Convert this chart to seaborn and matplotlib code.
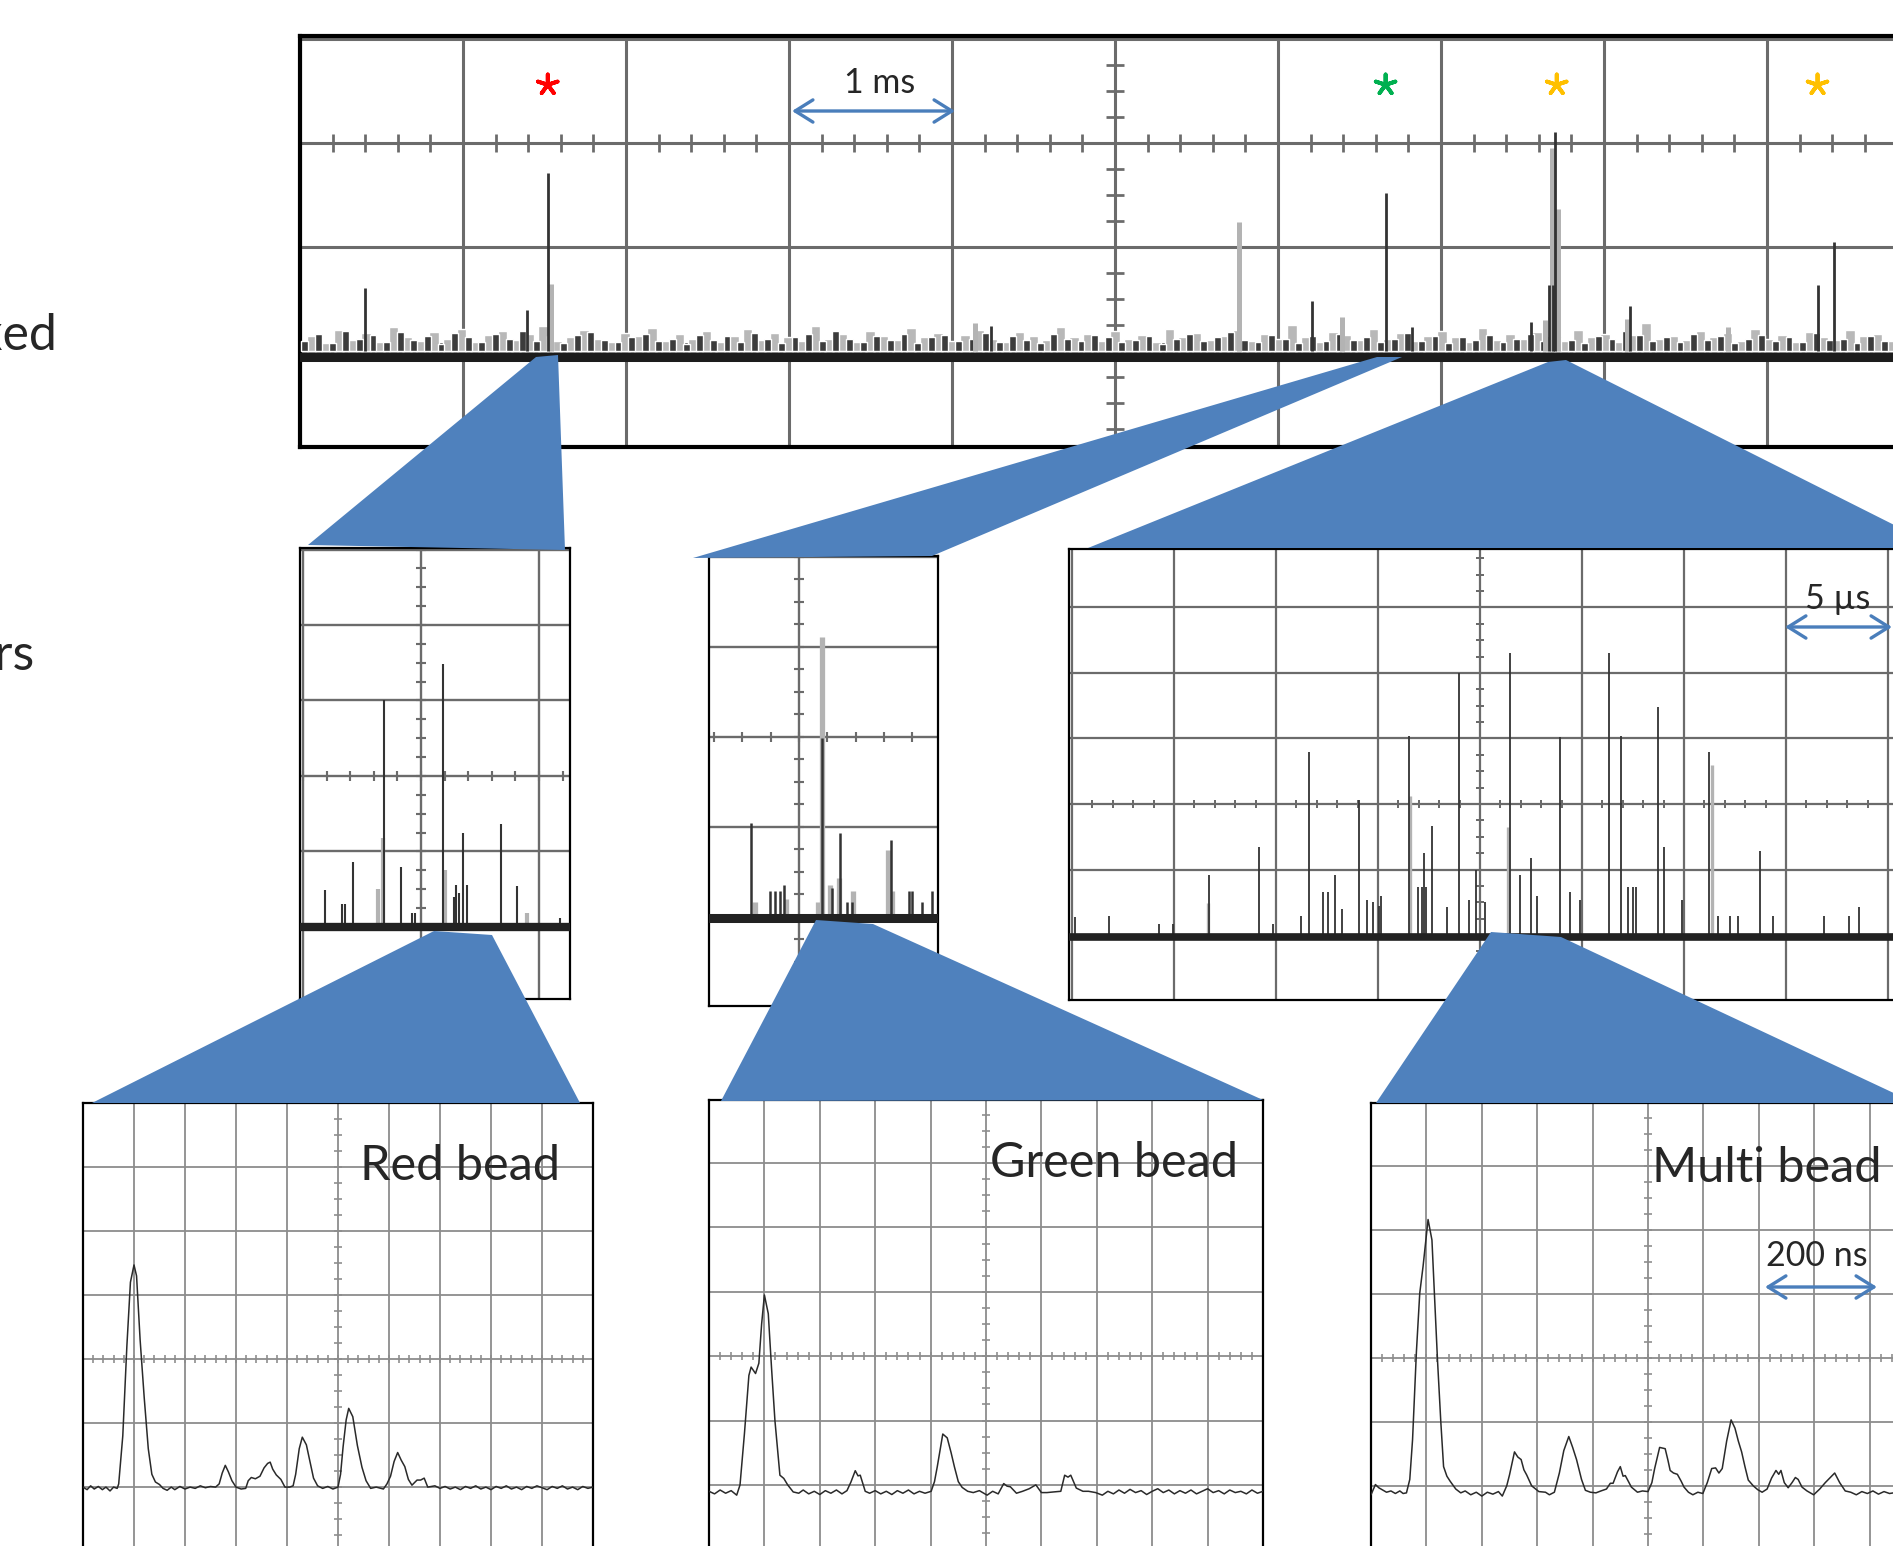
import matplotlib.pyplot as plt
import numpy as np
import seaborn as sns
from matplotlib.patches import Polygon

W, H = 1893, 1546

# ---- values (units: divisions from screen centre) ----

# overview, 1 ms/div : (time, peak height) of the isolated bursts
overview_dark = [(-4.60, -1.39), (-3.61, -1.61), (-3.48, -0.29), (1.21, -1.52), (1.66, -0.48),
                 (1.82, -1.77), (2.66, -1.37), (2.69, -1.37), (2.70, 0.11), (3.16, -1.57),
                 (4.31, -1.37), (4.41, -0.95), (-0.76, -1.76), (2.55, -1.72)]
overview_light = [(-3.46, -1.36), (-0.86, -1.73), (0.76, -0.76), (1.39, -1.67), (2.68, -0.05),
                  (2.72, -0.63), (2.64, -1.70), (3.14, -1.69), (3.76, -1.77)]
# background "grass" on the overview, hundredths of a division above the baseline
grass_dark = [10, 16, 8, 19, 12, 15, 9, 18, 11, 14, 7, 17, 13, 9, 16, 12, 19, 10, 14, 8,
              15, 18, 11, 9, 13, 16, 10, 12, 7, 15, 11, 14, 9, 17, 12, 8, 13, 16, 10, 19,
              12, 9, 14, 11, 16, 8, 13, 15, 10, 12, 17, 9, 14, 11, 8, 16, 12, 10, 15, 13,
              9, 11, 14, 7, 12, 16, 10, 13, 18, 11, 9, 15, 12, 8, 14, 10, 16, 11, 13, 9,
              12, 17, 10, 14, 8, 13, 11, 15, 9, 12, 16, 10, 13, 11, 8, 14, 12, 19, 15, 10,
              13, 9, 16, 11, 14, 8, 12, 15, 10, 13, 9, 17, 11, 12, 8, 14, 10, 16, 9, 13]
grass_light = [14, 8, 20, 11, 17, 9, 23, 13, 10, 18, 12, 21, 9, 15, 19, 11, 16, 24, 10, 13,
               20, 12, 9, 17, 14, 22, 10, 16, 12, 19, 9, 14, 21, 11, 17, 13, 10, 24, 12, 16,
               9, 19, 14, 11, 22, 13, 17, 10, 15, 20, 12, 9, 18, 14, 11, 23, 13, 16, 10, 19,
               12, 15, 9, 21, 13, 17, 11, 14, 20, 10, 16, 12, 25, 13, 9, 18, 15, 11, 21, 12,
               17, 10, 14, 19, 13, 9, 22, 11, 16, 12, 18, 14, 10, 20, 13, 16, 9, 15, 27, 12,
               14, 11, 19, 13, 17, 10, 21, 12, 15, 9, 18, 13, 11, 20, 14, 16, 10, 22, 12, 15]
event_x = [-3.48, 1.66, 2.71, 4.31]
event_colors = ['#FF0000', '#00B050', '#FFC000', '#FFC000']

# 5 us/div cluster views
red_cluster = [(-0.81, -1.51), (-0.67, -1.70), (-0.64, -1.70), (-0.58, -1.14), (-0.31, 1.01),
               (-0.17, -1.21), (-0.08, -1.81), (-0.05, -1.81), (0.19, 1.48), (0.28, -1.60),
               (0.30, -1.45), (0.32, -1.55), (0.36, -0.75), (0.39, -1.44), (0.68, -0.64),
               (0.81, -1.46), (1.18, -1.88)]
red_cluster_light = [(-0.32, -0.82), (0.20, -1.25), (0.90, -1.81), (-0.36, -1.50)]
green_cluster = [(-0.34, -0.96), (-0.205, -1.71), (-0.17, -1.71), (-0.134, -1.71), (-0.106, -1.64),
                 (0.163, -0.01), (0.233, -1.68), (0.29, -1.07), (0.34, -1.83), (0.375, -1.83),
                 (0.65, -1.14), (0.78, -1.71), (0.80, -1.71), (0.87, -1.83), (0.94, -1.71)]
green_cluster_light = [(-0.31, -1.83), (-0.09, -1.80), (0.134, -1.83), (0.163, 1.11), (0.22, -1.64),
                       (0.283, -1.57), (0.38, -1.71), (0.63, -1.26), (0.66, -1.71)]
multi_cluster = [(-3.97, -1.73), (-3.64, -1.71), (-3.15, -1.83), (-3.01, -1.83), (-2.66, -1.08),
                 (-2.17, -0.66), (-2.03, -1.83), (-1.75, -1.71), (-1.68, 0.79), (-1.54, -1.34),
                 (-1.49, -1.34), (-1.42, -1.08), (-1.35, -1.60), (-1.19, 0.06), (-1.11, -1.47),
                 (-1.05, -1.50), (-0.99, -1.55), (-0.97, -1.40), (-0.70, 1.04), (-0.61, -1.27),
                 (-0.57, -1.27), (-0.55, -0.75), (-0.53, -1.27), (-0.47, -0.34), (-0.32, -1.57),
                 (-0.21, 2.00), (-0.11, -1.47), (-0.04, -1.00), (0.05, -1.50), (0.29, 2.31),
                 (0.39, -1.08), (0.50, -0.82), (0.56, -1.40), (0.78, 1.02), (0.88, -1.34),
                 (0.98, -1.47), (1.26, 2.31), (1.38, 1.04), (1.45, -1.27), (1.50, -1.27),
                 (1.53, -1.27), (1.75, 1.48), (1.80, -0.66), (1.98, -1.47), (2.25, 0.79),
                 (2.33, -1.71), (2.45, -1.71), (2.53, -1.71), (2.75, -0.72), (2.87, -1.71),
                 (3.37, -1.71), (3.62, -1.71), (3.72, -1.57)]
multi_cluster_light = [(-2.67, -1.51), (-0.69, 0.12), (0.27, -0.35), (2.27, 0.60)]

# 200 ns/div single events: trace vertices (time, level)
red_bead = [(-5.0, -2.0), (-4.92, -2.04), (-4.85, -1.98), (-4.78, -2.03), (-4.7, -1.99), (-4.62, -2.04),
            (-4.55, -2.0), (-4.47, -2.06), (-4.4, -2.0), (-4.33, -2.02), (-4.3, -1.95), (-4.22, -1.2),
            (-4.14, 0.2), (-4.07, 1.2), (-4.0, 1.47), (-3.95, 1.3), (-3.88, 0.3), (-3.8, -0.6),
            (-3.72, -1.4), (-3.65, -1.8), (-3.58, -1.92), (-3.5, -1.96), (-3.43, -2.02), (-3.35, -2.05),
            (-3.27, -2.0), (-3.2, -2.04), (-3.1, -1.99), (-3.0, -2.03), (-2.9, -2.0), (-2.8, -2.02),
            (-2.7, -1.98), (-2.6, -2.01), (-2.5, -1.99), (-2.4, -2.0), (-2.33, -1.95), (-2.27, -1.78),
            (-2.21, -1.66), (-2.15, -1.76), (-2.08, -1.9), (-2.0, -2.0), (-1.9, -2.03), (-1.81, -2.02),
            (-1.76, -1.9), (-1.7, -1.85), (-1.62, -1.87), (-1.53, -1.83), (-1.45, -1.7), (-1.38, -1.63),
            (-1.33, -1.61), (-1.28, -1.72), (-1.21, -1.81), (-1.12, -1.88), (-1.04, -2.0), (-0.95, -2.0),
            (-0.88, -1.98), (-0.83, -1.8), (-0.76, -1.4), (-0.7, -1.22), (-0.62, -1.34), (-0.55, -1.6),
            (-0.48, -1.86), (-0.4, -1.98), (-0.3, -2.02), (-0.2, -1.99), (-0.1, -2.03), (0.0, -2.0),
            (0.05, -1.8), (0.1, -1.37), (0.16, -0.95), (0.21, -0.77), (0.29, -0.9), (0.38, -1.35),
            (0.47, -1.69), (0.55, -1.9), (0.64, -2.02), (0.75, -2.0), (0.89, -2.03), (0.96, -1.95),
            (1.03, -1.83), (1.1, -1.6), (1.17, -1.46), (1.24, -1.58), (1.31, -1.68), (1.38, -1.88),
            (1.45, -1.97), (1.55, -1.89), (1.62, -1.89), (1.69, -1.86), (1.76, -2.0), (1.9, -1.98),
            (2.0, -2.02), (2.1, -1.99), (2.2, -2.03), (2.3, -2.0), (2.4, -2.04), (2.5, -1.99),
            (2.6, -2.02), (2.7, -1.98), (2.8, -2.03), (2.9, -2.0), (3.0, -2.04), (3.1, -1.99),
            (3.2, -2.02), (3.3, -1.98), (3.4, -2.03), (3.5, -2.0), (3.6, -2.04), (3.7, -1.99),
            (3.8, -2.02), (3.9, -1.98), (4.0, -2.01), (4.1, -2.04), (4.2, -1.99), (4.3, -2.02),
            (4.4, -1.98), (4.5, -2.03), (4.6, -2.0), (4.7, -2.04), (4.8, -1.99), (4.9, -2.02), (5.0, -2.0)]
green_bead = [(-5.0, -2.1), (-4.9, -2.14), (-4.8, -2.08), (-4.7, -2.13), (-4.6, -2.09), (-4.5, -2.16),
              (-4.44, -2.0), (-4.36, -1.2), (-4.28, -0.3), (-4.24, -0.17), (-4.16, -0.27), (-4.1, -0.11),
              (-4.05, 0.5), (-4.0, 0.95), (-3.93, 0.66), (-3.87, -0.2), (-3.81, -1.0), (-3.72, -1.85),
              (-3.65, -1.9), (-3.58, -2.0), (-3.48, -2.11), (-3.38, -2.13), (-3.3, -2.08), (-3.2, -2.14),
              (-3.1, -2.1), (-3.0, -2.15), (-2.9, -2.09), (-2.8, -2.13), (-2.7, -2.08), (-2.6, -2.14),
              (-2.51, -2.09), (-2.44, -1.96), (-2.36, -1.78), (-2.31, -1.86), (-2.27, -1.85), (-2.18, -2.1),
              (-2.1, -2.13), (-2.0, -2.09), (-1.9, -2.14), (-1.8, -2.1), (-1.7, -2.15), (-1.6, -2.09),
              (-1.5, -2.13), (-1.4, -2.08), (-1.3, -2.14), (-1.2, -2.1), (-1.1, -2.13), (-0.99, -2.1),
              (-0.93, -1.95), (-0.88, -1.72), (-0.78, -1.21), (-0.7, -1.27), (-0.63, -1.5), (-0.57, -1.72),
              (-0.5, -1.95), (-0.43, -2.04), (-0.33, -2.1), (-0.23, -2.12), (-0.12, -2.09), (0.02, -2.16),
              (0.12, -2.1), (0.22, -2.14), (0.32, -1.98), (0.38, -2.02), (0.44, -2.03), (0.55, -2.13),
              (0.66, -2.1), (0.78, -2.06), (0.9, -2.0), (1.0, -2.12), (1.1, -2.12), (1.22, -2.11),
              (1.35, -2.1), (1.42, -1.85), (1.48, -1.88), (1.53, -1.85), (1.63, -2.05), (1.75, -2.1),
              (1.85, -2.1), (1.98, -2.12), (2.1, -2.16), (2.2, -2.1), (2.3, -2.14), (2.4, -2.08),
              (2.5, -2.13), (2.6, -2.07), (2.7, -2.12), (2.8, -2.09), (2.9, -2.15), (3.0, -2.1),
              (3.1, -2.06), (3.2, -2.12), (3.3, -2.08), (3.4, -2.14), (3.5, -2.09), (3.6, -2.13),
              (3.7, -2.08), (3.8, -2.14), (3.9, -2.1), (4.0, -2.06), (4.1, -2.12), (4.2, -2.09),
              (4.3, -2.14), (4.4, -2.08), (4.5, -2.12), (4.6, -2.1), (4.7, -2.14), (4.8, -2.08),
              (4.9, -2.13), (5.0, -2.1)]
multi_bead = [(-5.0, -2.14), (-4.92, -1.98), (-4.86, -2.03), (-4.8, -2.06), (-4.72, -2.1), (-4.64, -2.08),
              (-4.56, -2.12), (-4.48, -2.08), (-4.42, -2.12), (-4.36, -2.11), (-4.3, -1.9), (-4.25, -1.28),
              (-4.18, 0.1), (-4.12, 1.01), (-4.06, 1.43), (-3.97, 2.16), (-3.9, 1.84), (-3.85, 0.9),
              (-3.8, -0.03), (-3.74, -1.0), (-3.69, -1.7), (-3.63, -1.85), (-3.57, -1.93), (-3.47, -2.05),
              (-3.38, -2.11), (-3.3, -2.08), (-3.2, -2.14), (-3.1, -2.1), (-3.0, -2.16), (-2.9, -2.1),
              (-2.8, -2.13), (-2.7, -2.09), (-2.63, -2.16), (-2.55, -2.0), (-2.5, -1.83), (-2.41, -1.47),
              (-2.35, -1.55), (-2.29, -1.59), (-2.24, -1.75), (-2.19, -1.83), (-2.1, -2.0), (-1.97, -2.09),
              (-1.85, -2.1), (-1.78, -2.14), (-1.69, -2.1), (-1.6, -1.8), (-1.52, -1.45), (-1.43, -1.23),
              (-1.36, -1.4), (-1.29, -1.59), (-1.2, -1.9), (-1.13, -2.07), (-1.04, -2.1), (-0.94, -2.11),
              (-0.85, -2.08), (-0.75, -2.05), (-0.68, -1.96), (-0.63, -1.96), (-0.55, -1.78), (-0.5, -1.7),
              (-0.45, -1.85), (-0.41, -1.84), (-0.3, -2.02), (-0.19, -2.1), (-0.1, -2.08), (0.0, -2.09),
              (0.07, -1.95), (0.12, -1.73), (0.21, -1.4), (0.31, -1.42), (0.36, -1.6), (0.4, -1.76),
              (0.46, -1.8), (0.53, -1.82), (0.6, -1.93), (0.65, -2.02), (0.73, -2.1), (0.81, -2.14),
              (0.9, -2.1), (0.99, -2.12), (1.07, -1.95), (1.15, -1.73), (1.22, -1.72), (1.28, -1.8),
              (1.34, -1.73), (1.42, -1.3), (1.5, -0.97), (1.57, -1.1), (1.63, -1.3), (1.69, -1.47),
              (1.75, -1.7), (1.81, -1.91), (1.9, -2.0), (1.98, -2.06), (2.06, -2.1), (2.15, -2.05),
              (2.23, -1.88), (2.31, -1.76), (2.36, -1.82), (2.4, -1.76), (2.46, -1.95), (2.53, -2.03),
              (2.6, -1.95), (2.66, -1.87), (2.71, -1.9), (2.78, -2.02), (2.87, -2.08), (2.99, -2.14),
              (3.1, -2.05), (3.2, -1.95), (3.37, -1.8), (3.46, -1.95), (3.56, -2.08), (3.66, -2.1),
              (3.76, -2.14), (3.86, -2.09), (3.96, -2.12), (4.06, -2.08), (4.16, -2.13), (4.26, -2.09),
              (4.36, -2.12), (4.5, -2.1), (4.7, -2.12), (5.0, -2.1)]

BLUE = '#4F81BD'
ARROW = '#4A7EBB'

sns.set_theme(style='white')
plt.rcParams['font.family'] = ['Lato', 'DejaVu Sans']

fig = plt.figure(figsize=(W / 100, H / 100), dpi=100)


def scope(box, xlim, ylim, div_px, grid_c, grid_lw, tick_px, frame_lw, hide=()):
    # one oscilloscope screen; box in figure pixels (left, top, right, bottom)
    l, t, r, b = box
    ax = fig.add_axes([l / W, 1 - b / H, (r - l) / W, (b - t) / H])
    ax.set_xlim(xlim)
    ax.set_ylim(ylim)
    ax.set_xticks([])
    ax.set_yticks([])
    ax.set_facecolor('white')
    for gx in range(int(np.ceil(xlim[0])), int(np.floor(xlim[1])) + 1):
        ax.axvline(gx, color=grid_c, lw=grid_lw, zorder=1)
    for gy in range(int(np.ceil(ylim[0])), int(np.floor(ylim[1])) + 1):
        ax.axhline(gy, color=grid_c, lw=grid_lw, zorder=1)
    hx = tick_px / div_px[0]
    hy = tick_px / div_px[1]
    tx = np.arange(np.ceil(xlim[0] * 5) / 5, xlim[1], 0.2)
    ty = np.arange(np.ceil(ylim[0] * 4) / 4, ylim[1], 0.25)
    ax.vlines(tx, -hy, hy, color=grid_c, lw=grid_lw * 0.9, zorder=1)
    ax.hlines(ty, -hx, hx, color=grid_c, lw=grid_lw * 0.9, zorder=1)
    for side, s in ax.spines.items():
        s.set_color('black')
        s.set_linewidth(frame_lw)
        s.set_visible(side not in hide)
    return ax


def spikes(ax, dark, light, base, lw_dark, lw_light):
    if light:
        lx, ly = zip(*light)
        ax.vlines(lx, base, ly, color='#b3b3b3', lw=lw_light, zorder=3)
    dx, dy = zip(*dark)
    ax.vlines(dx, base, dy, color='#333333', lw=lw_dark, zorder=4)


# ---- overview (1 ms/div) ----
top = scope((300, 36, 1930, 447), (-5, 5), (-2.923, 1.029), (163, 104), '#6b6b6b', 2.2, 9, 3.0)
gx = np.linspace(-4.97, 4.97, len(grass_dark))
step = gx[1] - gx[0]
top.fill_between([-5, 5], -2.0, -1.92, color='#6a6a6a', lw=0, zorder=2)
top.bar(gx + step / 2, np.array(grass_light) / 100, bottom=-2.0, width=step * 0.7,
        color='#b8b8b8', zorder=2)
top.bar(gx, np.array(grass_dark) / 100, bottom=-2.0, width=step * 0.5, color='#3c3c3c', zorder=3)
spikes(top, overview_dark, overview_light, -2.0, 2.0, 3.6)
top.axhline(-2.06, color='#1c1c1c', lw=6.5, zorder=5)
top.scatter(event_x, [0.56] * len(event_x), marker=(5, 2, 0), s=220, c=event_colors,
            linewidths=2.8, zorder=6)

# ---- cluster views (5 us/div) ----
ax_a = scope((300, 548, 570, 999), (-1.025, 1.263), (-2.954, 3.02), (118, 75.5), '#6b6b6b', 1.7, 5, 1.6)
spikes(ax_a, red_cluster, red_cluster_light, -2.0, 1.5, 3.0)
ax_a.axhline(-2.0, color='#222222', lw=6, zorder=5)

ax_b = scope((709, 556, 938, 1006), (-0.636, 0.982), (-2.989, 2.011), (141.5, 90), '#6b6b6b', 1.7, 5, 1.6)
spikes(ax_b, green_cluster, green_cluster_light, -2.0, 1.8, 3.8)
ax_b.axhline(-2.01, color='#222222', lw=6.5, zorder=5)

# the multi-bead cluster screen runs past the right edge of the figure
ax_c = scope((1069, 549, 1990, 1000), (-4.029, 5.0), (-2.99, 3.89), (102, 65.5), '#6b6b6b', 1.6, 4, 1.6,
             hide=('right',))
spikes(ax_c, multi_cluster, multi_cluster_light, -2.03, 1.3, 2.4)
ax_c.axhline(-2.03, color='#222222', lw=5.5, zorder=5)

# ---- single events (200 ns/div) ----
beads = [((83, 1103, 593, 1546), (-2.92, 4.0), (51, 64), red_bead),
         ((709, 1100, 1263, 1546), (-2.95, 3.98), (55.4, 64.3), green_bead),
         ((1371, 1103, 1925, 1546), (-2.94, 3.98), (55.4, 64), multi_bead)]
for box, ylim, dpx, trace in beads:
    ax = scope(box, (-5, 5), ylim, dpx, '#8c8c8c', 1.3, 4, 1.6, hide=('bottom',))
    tr = np.array(trace)
    sns.lineplot(x=tr[:, 0], y=tr[:, 1], ax=ax, color='#2a2a2a', lw=1.1, sort=False,
                 estimator=None, zorder=4)
    ax.set_xlim(-5, 5)
    ax.set_ylim(ylim)

# ---- overlay: zoom wedges, labels, scale bars (figure pixels) ----
ov = fig.add_axes([0, 0, 1, 1])
ov.set_xlim(0, W)
ov.set_ylim(H, 0)
ov.axis('off')
ov.patch.set_alpha(0)

wedges = [[(536, 357), (558, 355), (565, 550), (308, 545)],
          [(1377, 357), (1402, 357), (932, 556), (693, 558)],
          [(1548, 362), (1566, 360), (1940, 548), (1088, 548)],
          [(434, 931), (492, 935), (580, 1103), (92, 1103)],
          [(816, 920), (873, 924), (1263, 1100), (721, 1101)],
          [(1491, 932), (1561, 937), (1915, 1103), (1376, 1103)]]
for pts in wedges:
    ov.add_patch(Polygon(pts, closed=True, fc=BLUE, ec='none', zorder=5))

# row labels run off the left edge, as in the original slide
ov.text(57, 350, 'Mixed', ha='right', va='baseline', fontsize=36)
ov.text(35, 670, 'Clusters', ha='right', va='baseline', fontsize=36)

ov.text(560, 1180, 'Red bead', ha='right', va='baseline', fontsize=35)
ov.text(1238, 1177, 'Green bead', ha='right', va='baseline', fontsize=35)
ov.text(1881, 1182, 'Multi bead', ha='right', va='baseline', fontsize=35)

scale_bars = [('1 ms', 880, 93, 792, 955, 111),
              ('5 \u00b5s', 1838, 609, 1785, 1892, 627),
              ('200 ns', 1817, 1266, 1765, 1877, 1287)]
for label, tx, ty, x0, x1, ya in scale_bars:
    ov.text(tx, ty, label, ha='center', va='baseline', fontsize=24.5)
    ov.annotate('', xy=(x1, ya), xytext=(x0, ya),
                arrowprops=dict(arrowstyle='<->,head_length=0.8,head_width=0.5', color=ARROW,
                                lw=2.4, shrinkA=0, shrinkB=0, mutation_scale=16))

fig.savefig('out.png', dpi=100)
